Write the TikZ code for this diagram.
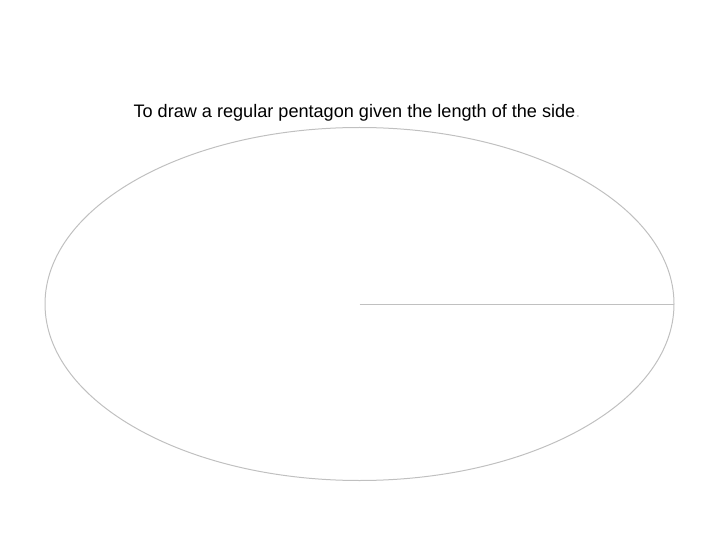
\documentclass[tikz,border=0pt]{standalone}
\usepackage{fontspec}
\setmainfont{Liberation Sans}
\definecolor{edgegrey}{RGB}{192,192,192}
\definecolor{dotgrey}{RGB}{200,200,200}
\tikzset{
  shapeline/.style={draw=edgegrey, line width=1pt},
  titletext/.style={inner sep=0pt, anchor=base, font=\fontsize{18.1}{21}\selectfont}
}
\begin{document}
\begin{tikzpicture}[x=1pt,y=-1pt]
\useasboundingbox (0,0) rectangle (720,540);
\node[titletext] (title) at (357,118) {To draw a regular pentagon given the length of the side\textcolor{dotgrey}{.}};
\coordinate (c) at (359.5,304);
\coordinate (r) at (674,304);
\draw[shapeline] (c) ellipse [x radius=314.5, y radius=176.5];
\draw[shapeline] (c) -- (r);
\end{tikzpicture}
\end{document}
